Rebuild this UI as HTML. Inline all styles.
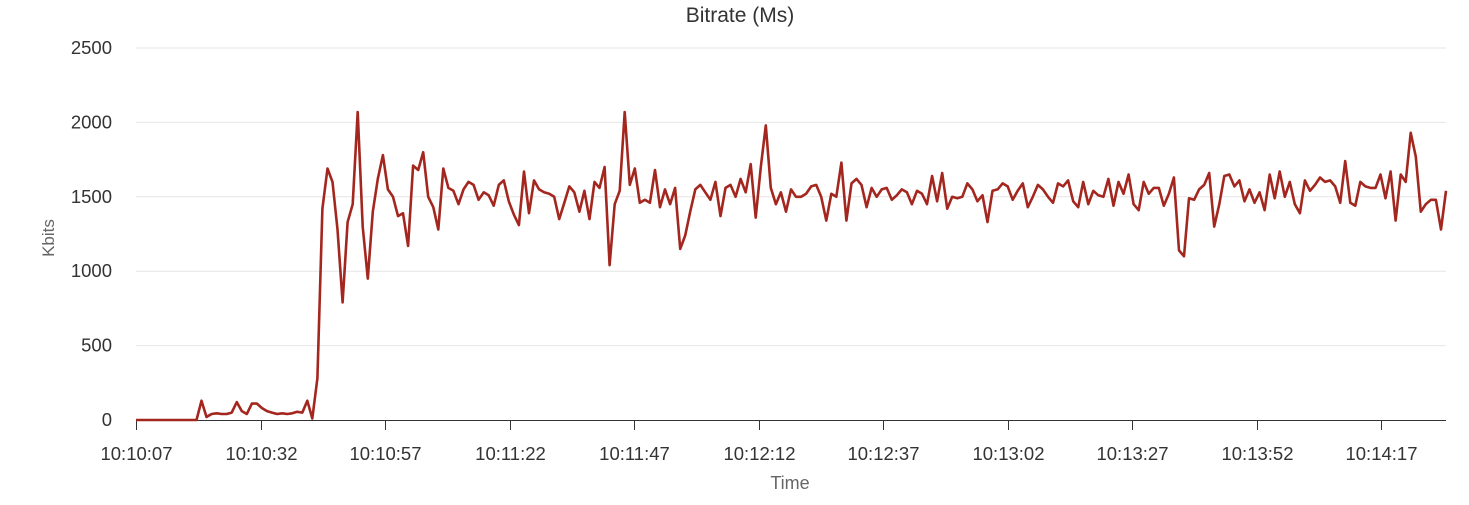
<!DOCTYPE html>
<html><head><meta charset="utf-8"><style>
body{margin:0;background:#fff;}
svg text{font-family:"Liberation Sans",sans-serif;}
</style></head><body>
<svg id="chart" width="1469" height="500" xmlns="http://www.w3.org/2000/svg">
<text x="740" y="22" font-size="21" text-anchor="middle" fill="#333">Bitrate (Ms)</text>
<text x="54" y="238" font-size="17" fill="#666" text-anchor="middle" transform="rotate(-90 54 238)">Kbits</text>
<text x="790" y="489" font-size="18" fill="#666" text-anchor="middle">Time</text>
<g id="grid"></g><g id="axes"></g><g id="series"></g>
</svg>
<script>
const yTicks=[0,500,1000,1500,2000,2500];
const xTickLabels=["10:10:07","10:10:32","10:10:57","10:11:22","10:11:47","10:12:12","10:12:37","10:13:02","10:13:27","10:13:52","10:14:17"];
const xTickSeconds=[0,25,50,75,100,125,150,175,200,225,250];
const bitrate=[0,0,0,0,0,0,0,0,0,0,0,0,0,130,20,40,45,40,40,50,120,60,40,110,110,80,60,50,40,45,40,45,55,50,130,10,280,1420,1690,1600,1280,790,1330,1450,2070,1300,950,1400,1620,1780,1550,1500,1370,1390,1170,1710,1680,1800,1500,1430,1280,1690,1560,1540,1450,1550,1600,1580,1480,1530,1510,1440,1580,1610,1470,1380,1310,1670,1390,1610,1550,1530,1520,1500,1350,1460,1570,1530,1400,1540,1350,1600,1560,1700,1040,1450,1540,2070,1580,1690,1460,1480,1460,1680,1430,1550,1450,1560,1150,1240,1400,1550,1580,1530,1480,1600,1370,1560,1580,1500,1620,1530,1720,1360,1700,1980,1560,1450,1530,1400,1550,1500,1500,1520,1570,1580,1500,1340,1520,1500,1730,1340,1590,1620,1580,1430,1560,1500,1550,1560,1480,1510,1550,1530,1450,1540,1520,1450,1640,1470,1660,1420,1500,1490,1500,1590,1550,1470,1510,1330,1540,1550,1590,1570,1480,1540,1590,1430,1500,1580,1550,1500,1460,1590,1570,1610,1470,1430,1600,1450,1540,1510,1500,1620,1440,1600,1520,1650,1450,1410,1600,1520,1560,1560,1440,1520,1630,1140,1100,1490,1480,1550,1580,1660,1300,1450,1640,1650,1570,1610,1470,1550,1460,1530,1410,1650,1490,1670,1500,1600,1450,1390,1610,1540,1580,1630,1600,1610,1570,1460,1740,1460,1440,1600,1570,1560,1560,1650,1490,1670,1340,1650,1600,1930,1770,1400,1450,1480,1480,1280,1540];
const NS="http://www.w3.org/2000/svg";
const X0=136,X1=1446,Y0=420,Y1=48,TMAX=263,VMAX=2500;
const xs=t=>X0+(t/TMAX)*(X1-X0);
const ys=v=>Y0-(v/VMAX)*(Y0-Y1);
function mk(tag,attrs,parent){const e=document.createElementNS(NS,tag);for(const k in attrs)e.setAttribute(k,attrs[k]);parent.appendChild(e);return e;}
const grid=document.getElementById('grid'),axes=document.getElementById('axes'),series=document.getElementById('series');
yTicks.forEach(v=>{
  if(v>0){const l=mk('line',{x1:X0,x2:X1,y1:ys(v),y2:ys(v),stroke:'#e6e6e6','stroke-width':1},grid);
  
  }
  const t=mk('text',{x:112,y:ys(v)+6,'font-size':18.5,'text-anchor':'end',fill:'#333'},axes);t.textContent=v;
  
  
});
const ax=mk('line',{x1:X0,x2:X1,y1:Y0+0.5,y2:Y0+0.5,stroke:'#333','stroke-width':1},axes);


xTickSeconds.forEach((s,i)=>{
  const x=Math.round(xs(s))+0.5;
  const tk=mk('line',{x1:x,x2:x,y1:Y0,y2:Y0+10,stroke:'#333','stroke-width':1},axes);
  
  
  const t=mk('text',{x:x,y:460,'font-size':18.5,'text-anchor':'middle',fill:'#333'},axes);t.textContent=xTickLabels[i];
  
  
});
const n=bitrate.length;
const pts=bitrate.map((v,i)=>xs(i*TMAX/(n-1)).toFixed(1)+','+ys(v).toFixed(1)).join(' ');
const pl=mk('polyline',{points:pts,fill:'none',stroke:'#a3271f','stroke-width':2.6,'stroke-linejoin':'round'},series);


</script>
</body></html>
